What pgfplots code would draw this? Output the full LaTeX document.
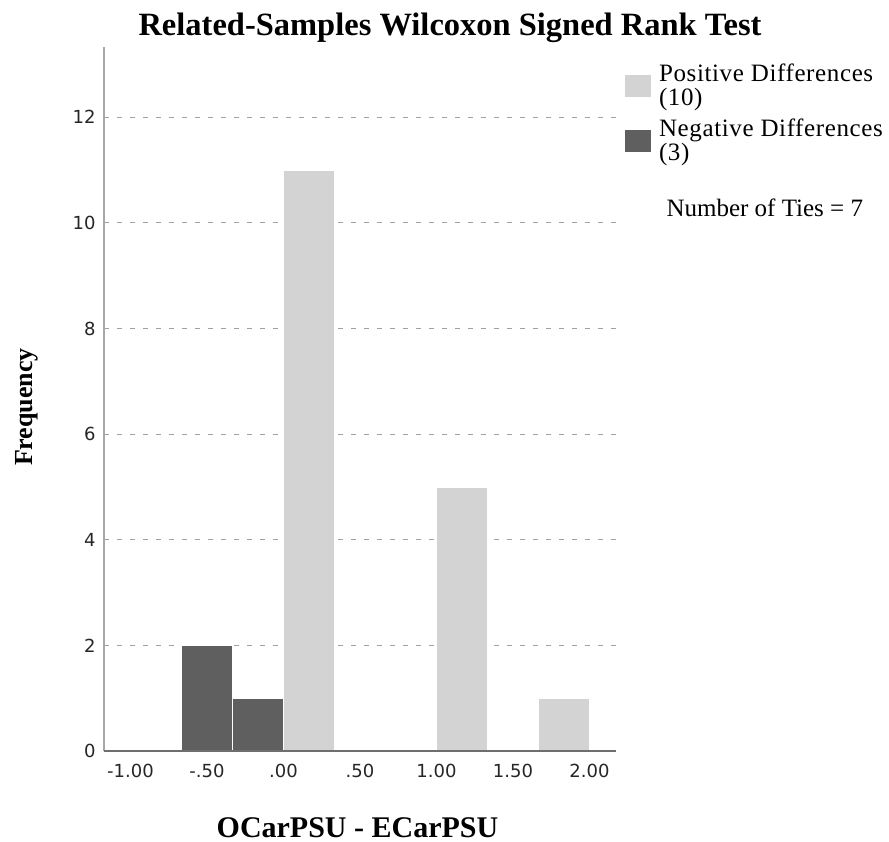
\documentclass[border=0pt]{standalone}
\usepackage{fontspec}
\setmainfont{Liberation Serif}
\newfontfamily\legfont{Liberation Serif}[LetterSpace=2.5]
\newfontfamily\tickfont{DejaVu Sans}
\usepackage{pgfplots}
\pgfplotsset{compat=1.18}
\definecolor{barlight}{HTML}{D3D3D3}
\definecolor{bardark}{HTML}{5F5F5F}
\definecolor{gridgray}{HTML}{A0A0A0}
\definecolor{yaxisgray}{HTML}{A8A8A8}
\definecolor{xaxisgray}{HTML}{6E6E6E}
\begin{document}
\begin{tikzpicture}
\path[use as bounding box] (0pt,0pt) rectangle (889pt,842pt);
\begin{axis}[
  at={(104pt,91pt)}, anchor=south west,
  scale only axis, width=512pt, height=704pt,
  xmin=-1.173, xmax=2.173, ymin=0, ymax=13.33,
  axis x line*=bottom, axis y line*=left,
  x axis line style={-, draw=xaxisgray, line width=1.5pt},
  y axis line style={-, draw=yaxisgray, line width=2.5pt},
  xtick={-1,-0.5,0,0.5,1,1.5,2},
  xticklabels={-1.00,-.50,.00,.50,1.00,1.50,2.00},
  ytick={0,2,4,6,8,10,12},
  major tick length=0pt,
  /pgf/number format/assume math mode=true,
  ticklabel style={font=\tickfont\fontsize{18}{18}\selectfont, text=black!85},
  xticklabel style={yshift=-10pt},
  yticklabel style={xshift=-5pt},
  ymajorgrids,
  major grid style={draw=gridgray, line width=1pt, dash pattern=on 5pt off 8pt},
  title={Related-Samples Wilcoxon Signed Rank Test},
  title style={at={(axis description cs:0.6758,1.0085)}, anchor=base, font=\bfseries\fontsize{32.5}{32.5}\selectfont},
  xlabel={OCarPSU - ECarPSU},
  xlabel style={at={(axis description cs:0.4951,-0.1222)}, anchor=base, font=\bfseries\fontsize{30}{30}\selectfont},
  ylabel={Frequency},
  ylabel style={at={(axis description cs:-0.1504,0.4886)}, anchor=center, font=\bfseries\fontsize{26}{26}\selectfont},
  legend style={at={(axis description cs:1.0176,0.9787)}, anchor=north west, draw=none, fill=none, inner sep=0pt, outer sep=0pt, row sep=8pt, column sep=6pt, font=\legfont\fontsize{25}{24}\selectfont, cells={anchor=west, align=left, inner sep=0pt}},
  legend image code/.code={\fill[#1, draw=none] (0pt,-11pt) rectangle (26pt,11pt);},
]
% Positive differences
\addplot[ybar interval, fill=barlight, draw=white, line width=1.2pt, forget plot] coordinates {(0,11) (0.3333,11)};
\addplot[ybar interval, fill=barlight, draw=white, line width=1.2pt, forget plot] coordinates {(1,5) (1.3333,5)};
\addplot[ybar interval, fill=barlight, draw=white, line width=1.2pt, forget plot] coordinates {(1.6667,1) (2,1)};
% Negative differences
\addplot[ybar interval, fill=bardark, draw=white, line width=1.2pt, forget plot] coordinates {(-0.6667,2) (-0.3333,1) (0,1)};
% baseline redrawn over the bars
\addplot[xaxisgray, line width=1.5pt, forget plot] coordinates {(-1.173,0) (2.173,0)};
\addlegendimage{fill=barlight, draw=none}
\addlegendentry{Positive Differences\\(10)}
\addlegendimage{fill=bardark, draw=none}
\addlegendentry{Negative Differences\\(3)}
\end{axis}
\node[anchor=base west, font=\fontsize{25}{24}\selectfont] at (663pt,625pt) {Number of Ties = 7};
\end{tikzpicture}
\end{document}
